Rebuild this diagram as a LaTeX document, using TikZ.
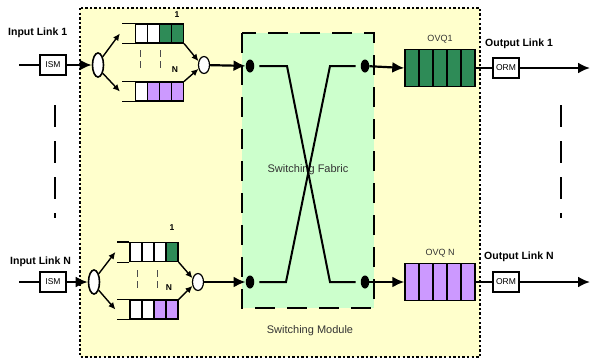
\documentclass[tikz,border=0pt]{standalone}
\usepackage{fontspec}
\setmainfont{Liberation Sans}
\usepackage{xcolor}
\usetikzlibrary{matrix,
	calc,
	positioning,
	shapes,
	arrows,
	arrows.meta}
\definecolor{modbg}{HTML}{FFFFCC}
\definecolor{fabbg}{HTML}{CCFFCC}
\definecolor{qgreen}{HTML}{2E8B57}
\definecolor{qpurple}{HTML}{CC99FF}
\tikzstyle{wc}=[draw, fill=white, inner sep=0]
\tikzstyle{gc}=[draw, fill=qgreen, inner sep=0]
\tikzstyle{pc}=[draw, fill=qpurple, inner sep=0]
\tikzstyle{qu}=[inner sep=0pt, outer sep=0pt, column sep=-1.2pt, ampersand
		replacement=\&, nodes={minimum width=12pt, minimum height=19pt, outer sep=0pt, line width=1.2pt}]
\tikzstyle{oq}=[inner sep=0pt, outer sep=0pt, column sep=-1.4pt, ampersand
		replacement=\&, nodes={minimum width=14pt, minimum height=37pt, outer sep=0pt, line width=1.4pt}]
\tikzstyle{mbox}=[draw, fill=white, line width=1.1pt, font=\fontsize{8.5}{9}\selectfont, minimum width=26pt, minimum height=20pt, inner sep=0]
\tikzstyle{split}=[draw, ellipse, fill=white, line width=1.6pt, minimum width=11pt, minimum height=24pt, inner sep=0]
\tikzstyle{merge}=[draw, ellipse, fill=white, line width=1.2pt, minimum width=11pt, minimum height=17pt, inner sep=0]
\tikzstyle{dot}=[ellipse, fill=black, minimum width=8.5pt, minimum height=13pt, inner sep=0]
\tikzstyle{lnk}=[font=\fontsize{10.5}{12}\selectfont\bfseries, inner sep=0]
\tikzstyle{qlbl}=[font=\fontsize{8.5}{10}\selectfont\bfseries, inner sep=0]
\tikzstyle{qname}=[font=\fontsize{9}{10}\selectfont, text=black!80, inner sep=0]
\tikzstyle{txt}=[font=\fontsize{11}{12}\selectfont, text=black!80, inner sep=0]
\tikzstyle{barr}=[line width=2.2pt, -{Latex[length=12pt,width=11pt]}]
\tikzstyle{sarr}=[line width=1.4pt, -{Latex[length=7pt,width=6.5pt]}]
\tikzstyle{wire}=[line width=2pt]
\tikzstyle{qline}=[line width=1.2pt]
\tikzstyle{qdash}=[line width=0.9pt, black!70, dash pattern=on 7pt off 4pt]
\tikzstyle{vdash}=[line width=2.2pt, dash pattern=on 22pt off 14pt]

\begin{document}
\begin{tikzpicture}[x=1pt,y=-1pt]
	\useasboundingbox (0,0) rectangle (590,360);
	\draw[fill=modbg, line width=2.2pt, dash pattern=on 2.4pt off 2.2pt] (80,8) rectangle (480,357);
	\draw[fill=fabbg, line width=2.2pt, dash pattern=on 20pt off 12pt] (242,33) rectangle (374,308);
	\node[txt] (fablbl) at (308,170) {Switching Fabric};
	\node[txt] (modlbl) at (310,331) {Switching Module};

	% input link 1
	\node[lnk, anchor=west] (in1lbl) at (8,33) {Input Link 1};
	\coordinate (in1) at (19,65);
	\node[mbox] (ism1) at (53,65) {ISM};
	\node[split] (sp1) at (98,65) {};
	\matrix (q1t) [qu] at (159.5,33.5) {
		\node[wc] {}; \& \node[wc] {}; \& \node[gc] {}; \& \node[gc] {}; \\
	};
	\matrix (q1b) [qu] at (159.5,91.5) {
		\node[wc] {}; \& \node[pc] {}; \& \node[pc] {}; \& \node[pc] {}; \\
	};
	\draw[qline] (q1t.north west) -- ++(-13,0);
	\draw[qline] (q1t.south west) -- ++(-13,0);
	\draw[qline] (q1b.north west) -- ++(-13,0);
	\draw[qline] (q1b.south west) -- ++(-13,0);
	\coordinate (q1tin) at ($(q1t.west)+(-15,0)$);
	\coordinate (q1bin) at ($(q1b.west)+(-15,0)$);
	\node[qlbl] (q1one) at (177,15) {1};
	\node[qlbl] (q1n) at (175,70) {N};
	\draw[qdash] (140,50) -- (140,70);
	\draw[qdash] (160,50) -- (160,70);
	\node[merge] (mg1) at (204,65) {};
	\node[dot] (d1l) at (250,66) {};
	\node[dot] (d1r) at (365,66) {};
	\draw[wire] (in1) -- (ism1);
	\draw[barr] (ism1) -- (sp1);
	\draw[sarr] (sp1.60) -- (q1tin);
	\draw[sarr] (sp1.-60) -- (q1bin);
	\draw[sarr] (q1t.south east) -- (mg1.145);
	\draw[sarr] (q1b.north east) -- (mg1.215);
	\draw[barr] (mg1) -- (d1l);

	% input link N
	\node[lnk, anchor=west] (inNlbl) at (10,262) {Input Link N};
	\coordinate (inN) at (19,282);
	\node[mbox] (ismN) at (53,282) {ISM};
	\node[split] (spN) at (94,282) {};
	\matrix (qNt) [qu] at (154,252) {
		\node[wc] {}; \& \node[wc] {}; \& \node[wc] {}; \& \node[gc] {}; \\
	};
	\matrix (qNb) [qu] at (154,309.5) {
		\node[wc] {}; \& \node[wc] {}; \& \node[pc] {}; \& \node[pc] {}; \\
	};
	\draw[qline] (qNt.north west) -- ++(-12,0);
	\draw[qline] (qNt.south west) -- ++(-12,0);
	\draw[qline] (qNb.north west) -- ++(-12,0);
	\draw[qline] (qNb.south west) -- ++(-12,0);
	\coordinate (qNtin) at ($(qNt.west)+(-14,0)$);
	\coordinate (qNbin) at ($(qNb.west)+(-14,0)$);
	\node[qlbl] (qNone) at (172,228) {1};
	\node[qlbl] (qNn) at (169,288) {N};
	\draw[qdash] (137,270) -- (137,290);
	\draw[qdash] (157,270) -- (157,290);
	\node[merge] (mgN) at (198,282) {};
	\node[dot] (dNl) at (250,282) {};
	\node[dot] (dNr) at (365,282) {};
	\draw[wire] (inN) -- (ismN);
	\draw[barr] (ismN) -- (spN);
	\draw[sarr] (spN.60) -- (qNtin);
	\draw[sarr] (spN.-60) -- (qNbin);
	\draw[sarr] (qNt.south east) -- (mgN.145);
	\draw[sarr] (qNb.north east) -- (mgN.215);
	\draw[barr] (mgN) -- (dNl);

	% switching fabric
	\coordinate (b1l) at (287,66);
	\coordinate (b1r) at (330,66);
	\coordinate (bNl) at (286,282);
	\coordinate (bNr) at (330,282);
	\draw[wire, shorten <=5pt, shorten >=5pt] (d1l) -- (b1l) -- (bNr) -- (dNr);
	\draw[wire, shorten <=5pt, shorten >=5pt] (dNl) -- (bNl) -- (b1r) -- (d1r);

	% output link 1
	\matrix (ovq1) [oq] at (440,68) {
		\node[gc] {}; \& \node[gc] {}; \& \node[gc] {}; \& \node[gc] {}; \& \node[gc] {}; \\
	};
	\node[qname, above=5pt of ovq1] (ovq1lbl) {OVQ1};
	\node[mbox] (orm1) at (506,68) {ORM};
	\coordinate (out1) at (590,68);
	\node[lnk, anchor=west] (out1lbl) at (485,44) {Output Link 1};
	\draw[barr] (d1r) -- (ovq1.west);
	\draw[wire] (ovq1.east) -- (orm1);
	\draw[barr] (orm1) -- (out1);

	% output link N
	\matrix (ovqN) [oq] at (440,282) {
		\node[pc] {}; \& \node[pc] {}; \& \node[pc] {}; \& \node[pc] {}; \& \node[pc] {}; \\
	};
	\node[qname, above=5pt of ovqN] (ovqNlbl) {OVQ N};
	\node[mbox] (ormN) at (506,282) {ORM};
	\coordinate (outN) at (590,282);
	\node[lnk, anchor=west] (outNlbl) at (484,257) {Output Link N};
	\draw[barr] (dNr) -- (ovqN.west);
	\draw[wire] (ovqN.east) -- (ormN);
	\draw[barr] (ormN) -- (outN);

	\draw[vdash] (55,105) -- (55,218);
	\draw[vdash] (561,105) -- (561,218);
\end{tikzpicture}
\end{document}
